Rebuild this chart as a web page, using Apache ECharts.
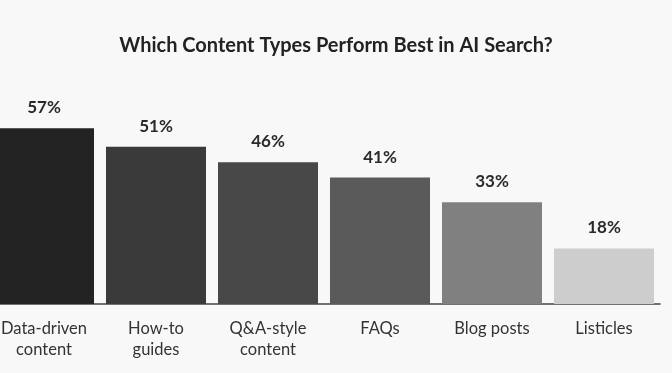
<!DOCTYPE html>
<html><head><meta charset="utf-8">
<script src="https://cdn.jsdelivr.net/npm/echarts@6/dist/echarts.min.js"></script>
<style>html,body{margin:0;padding:0;background:#f8f8f8;}#c{width:672px;height:373px;}</style>
</head><body><div id="c"></div>
<script>
const titleText = 'Which Content Types Perform Best in AI Search?';
const categories = ['Data-driven\ncontent', 'How-to\nguides', 'Q&A-style\ncontent', 'FAQs', 'Blog posts', 'Listicles'];
const values = [57, 51, 46, 41, 33, 18];
const barColors = ['#232323', '#3a3a3a', '#484848', '#5a5a5a', '#808080', '#cdcdcd'];

const chart = echarts.init(document.getElementById('c'), null, {renderer: 'canvas'});
chart.setOption({
  backgroundColor: '#f8f8f8',
  animation: false,
  title: {
    text: titleText, left: 'center', top: 31,
    textStyle: {fontFamily: 'Lato', fontWeight: 'bold', fontSize: 20, color: '#222'}
  },
  grid: {left: -12, right: 12, top: 119, bottom: 69, containLabel: false, outerBoundsMode: 'none'},
  xAxis: {
    type: 'category', data: categories,
    axisLine: {lineStyle: {color: '#444', width: 1.5}},
    axisTick: {show: false},
    axisLabel: {fontFamily: 'Lato', fontSize: 16.5, color: '#333', lineHeight: 21, margin: 14, interval: 0}
  },
  yAxis: {type: 'value', min: 0, max: 60, show: false, splitLine: {show: false}},
  series: [{
    type: 'bar', barCategoryGap: '10.7%',
    data: values.map((v, i) => ({value: v, itemStyle: {color: barColors[i]}})),
    label: {show: true, position: 'top', distance: 12, formatter: '{c}%',
      fontFamily: 'Lato', fontWeight: 'bold', fontSize: 17, color: '#2a2a2a'}
  }]
});
</script></body></html>
